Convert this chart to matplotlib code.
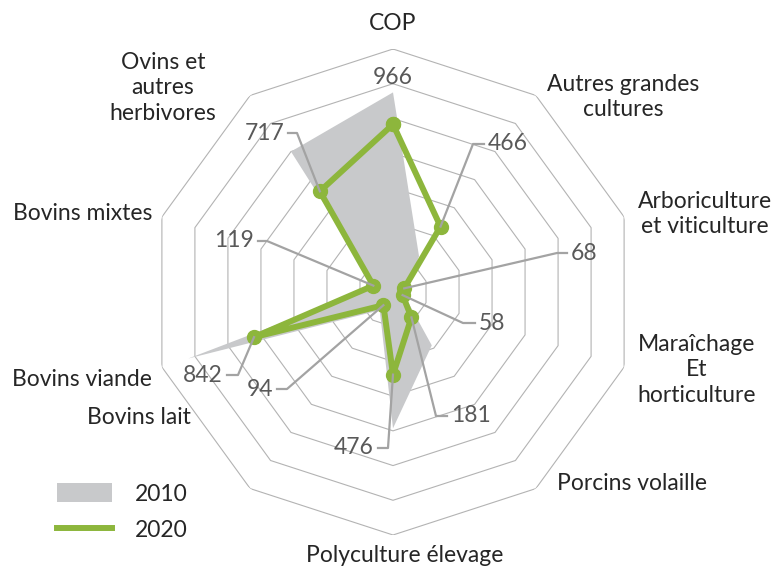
import numpy as np
import matplotlib
matplotlib.use("Agg")
import matplotlib.pyplot as plt
from matplotlib.patches import Patch
from matplotlib.lines import Line2D

plt.rcParams['font.family'] = ['Lato', 'DejaVu Sans']

categories = ["COP", "Autres grandes\ncultures", "Arboriculture\net viticulture",
              "Maraîchage\nEt\nhorticulture", "Porcins volaille", "Polyculture élevage",
              "Bovins lait", "Bovins viande", "Bovins mixtes", "Ovins et\nautres\nherbivores"]
values_2010 = [1150, 255, 90, 70, 380, 785, 130, 1240, 100, 1000]
values_2020 = [966, 466, 68, 58, 181, 476, 94, 842, 119, 717]
years = ["2010", "2020"]

GREY = "#c8c9cb"
GREEN = "#8db63c"
GRID = "#b3b3b3"
LEADER = "#a3a3a3"
W, H = 775, 566
FS = 16.5

fig = plt.figure(figsize=(W / 100, H / 100), dpi=100)
# polar axes: centre (393, 292) px from top-left, radius 243 px
cx, cy, R = 393, 292, 243
ax = fig.add_axes([(cx - R) / W, (H - cy - R) / H, 2 * R / W, 2 * R / H], projection="polar")
ax.set_theta_zero_location("N")
ax.set_theta_direction(-1)
ax.set_ylim(0, 1400)
ax.axis("off")

n = len(categories)
theta = np.linspace(0, 2 * np.pi, n, endpoint=False)
tc = np.append(theta, theta[0])

# decagon rings
for r in range(200, 1401, 200):
    ax.plot(tc, [r] * (n + 1), color=GRID, lw=0.8, zorder=1)

ax.fill(tc, values_2010 + values_2010[:1], color=GREY, lw=0, zorder=2)


def px(x, y):
    # top-left pixel coords -> display coords
    return x, H - y


# data labels: (kink x, kink y, end x, text side)
label_pos = [None,
             (473, 144, 484, "left"),
             (557, 253, 567, "left"),
             (463, 323, 475, "left"),
             (436, 416, 447, "left"),
             (388, 448, 378, "right"),
             (287, 389, 277, "right"),
             (238, 375, 227, "right"),
             (267, 241, 258, "right"),
             (297, 133, 288, "right")]

for i, v in enumerate(values_2020):
    p = ax.transData.transform((theta[i], v))
    if label_pos[i] is None:
        fig.text(cx / W, 1 - 77 / H, str(v), ha="center", va="center",
                 fontsize=FS, color="#595959")
        continue
    kx, ky, ex, side = label_pos[i]
    k = px(kx, ky)
    e = px(ex, ky)
    fig.add_artist(Line2D([p[0], k[0], e[0]], [p[1], k[1], e[1]], transform=None,
                          color=LEADER, lw=1.6, zorder=3))
    tx = ex + 4 if side == "left" else ex - 4
    fig.text(tx / W, 1 - ky / H, str(v), ha=side, va="center",
             fontsize=FS, color="#595959")

ax.plot(tc, values_2020 + values_2020[:1], color=GREEN, lw=4.3, marker="o",
        markersize=10, zorder=4)

# category labels
cat_pos = [(393, 24), (623, 97), (705, 214), (697, 370), (632, 483), (405, 555),
           (139, 417), (82, 380), (83, 213), (163, 88)]
for lab, (x, y) in zip(categories, cat_pos):
    fig.text(x / W, 1 - y / H, lab, ha="center", va="center", fontsize=FS,
             color="#262626", linespacing=1.25)

handles = [Patch(facecolor=GREY, edgecolor="none"),
           Line2D([], [], color=GREEN, lw=4.3)]
fig.legend(handles, years, loc="center left", bbox_to_anchor=(36 / W, 1 - 512 / H),
           frameon=False, handlelength=2.4, handleheight=0.9,
           handletextpad=1.0, labelspacing=0.65, labelcolor="#262626",
           prop={"size": FS})

fig.savefig("out.png", dpi=100)
